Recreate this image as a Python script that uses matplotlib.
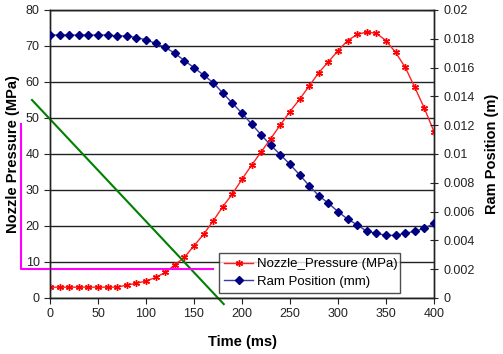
import numpy as np
import matplotlib
matplotlib.use("Agg")
import matplotlib.pyplot as plt

plt.rcParams['font.family'] = ['Liberation Sans', 'DejaVu Sans']

time_ms = list(range(0, 410, 10))
nozzle_pressure = [3.0, 3.0, 3.0, 3.0, 3.0, 3.0, 3.0, 3.0, 3.6, 4.1,
                   4.7, 5.7, 7.1, 9.2, 11.3, 14.5, 17.7, 21.4, 25.4, 28.9,
                   33.0, 36.9, 40.6, 44.3, 48.1, 51.8, 55.2, 58.9, 62.6, 65.6,
                   68.7, 71.5, 73.2, 73.9, 73.5, 71.5, 68.2, 64.1, 58.5, 52.7,
                   46.2]
ram_position = [0.01826, 0.01826, 0.01826, 0.01826, 0.01826, 0.01826, 0.01826, 0.0182, 0.0182, 0.01808,
                0.01793, 0.01768, 0.0174, 0.017, 0.01648, 0.016, 0.01548, 0.01495, 0.01423, 0.01353,
                0.01283, 0.01208, 0.01133, 0.0106, 0.00995, 0.00928, 0.00855, 0.0078, 0.0071, 0.00658,
                0.006, 0.00548, 0.00508, 0.00463, 0.0045, 0.00435, 0.00435, 0.0045, 0.00463, 0.00485,
                0.00518]

# hand-drawn annotation lines (time, MPa)
green_x = [-18.75, 181]
green_y = [55, -1.7]
magenta_x = [-30.5, -30.5, 170]
magenta_y = [48.3, 8.0, 8.0]

fig = plt.figure(figsize=(5.03, 3.54), dpi=100)
ax = fig.add_axes([50/503, 1-298/354, 384/503, 288/354])
ax2 = ax.twinx()

ax.set_xlim(0, 400)
ax.set_ylim(0, 80)
ax2.set_ylim(0, 0.02)
ax.set_xticks(range(0, 401, 50))
ax.set_yticks(range(0, 81, 10))
rticks = [round(v, 3) for v in np.arange(0, 0.0201, 0.002)]
ax2.set_yticks(rticks)
ax2.set_yticklabels(['{:g}'.format(v) for v in rticks])

ax.grid(axis='y', color='#222222', linewidth=1)
ax.set_axisbelow(True)
for a in (ax, ax2):
    for s in a.spines.values():
        s.set_color('#222222')
        s.set_linewidth(1)
ax.tick_params(axis='both', direction='out', length=4, color='#222222', labelsize=9, labelcolor='#222222')
ax2.tick_params(axis='y', direction='inout', length=6, color='#222222', labelsize=9, labelcolor='#222222')

red, = ax.plot(time_ms, nozzle_pressure, color='#ff2020', linewidth=1,
               marker=(6, 2, 0), markersize=5, markeredgewidth=1, markeredgecolor='#ff0000',
               label='Nozzle_Pressure (MPa)', zorder=4)
blue, = ax2.plot(time_ms, ram_position, color='#3a3aa0', linewidth=1,
                 marker='D', markersize=3.8, markerfacecolor='#000080', markeredgecolor='#000080',
                 label='Ram Position (mm)', zorder=3)

ax.plot(green_x, green_y, color='#008000', linewidth=1.5, clip_on=False, zorder=5)
ax.plot(magenta_x, magenta_y, color='#ff00ff', linewidth=1.5, clip_on=False, zorder=5)

ax.set_xlabel('Time (ms)', fontsize=10.5, fontweight='bold')
ax.xaxis.set_label_coords(0.5, -0.13)
ax.set_ylabel('Nozzle Pressure (MPa)', fontsize=10.5, fontweight='bold')
ax.yaxis.set_label_coords(-0.078, 0.5)
ax2.set_ylabel('Ram Position (m)', fontsize=10.5, fontweight='bold', rotation=90)
ax2.yaxis.set_label_coords(1.133, 0.5)

leg = ax2.legend([red, blue], ['Nozzle_Pressure (MPa)', 'Ram Position (mm)'],
                 loc='lower left', bbox_to_anchor=(0.44, 0.017, 0.471, 0.17), mode='expand',
                 fontsize=9.5, frameon=True, fancybox=False, borderaxespad=0,
                 handlelength=2.2, handletextpad=0.3, labelspacing=0.4, borderpad=0.4)
leg.get_frame().set_edgecolor('#222222')
leg.get_frame().set_linewidth(1)
leg.set_zorder(10)

fig.savefig('out.png', dpi=100)
